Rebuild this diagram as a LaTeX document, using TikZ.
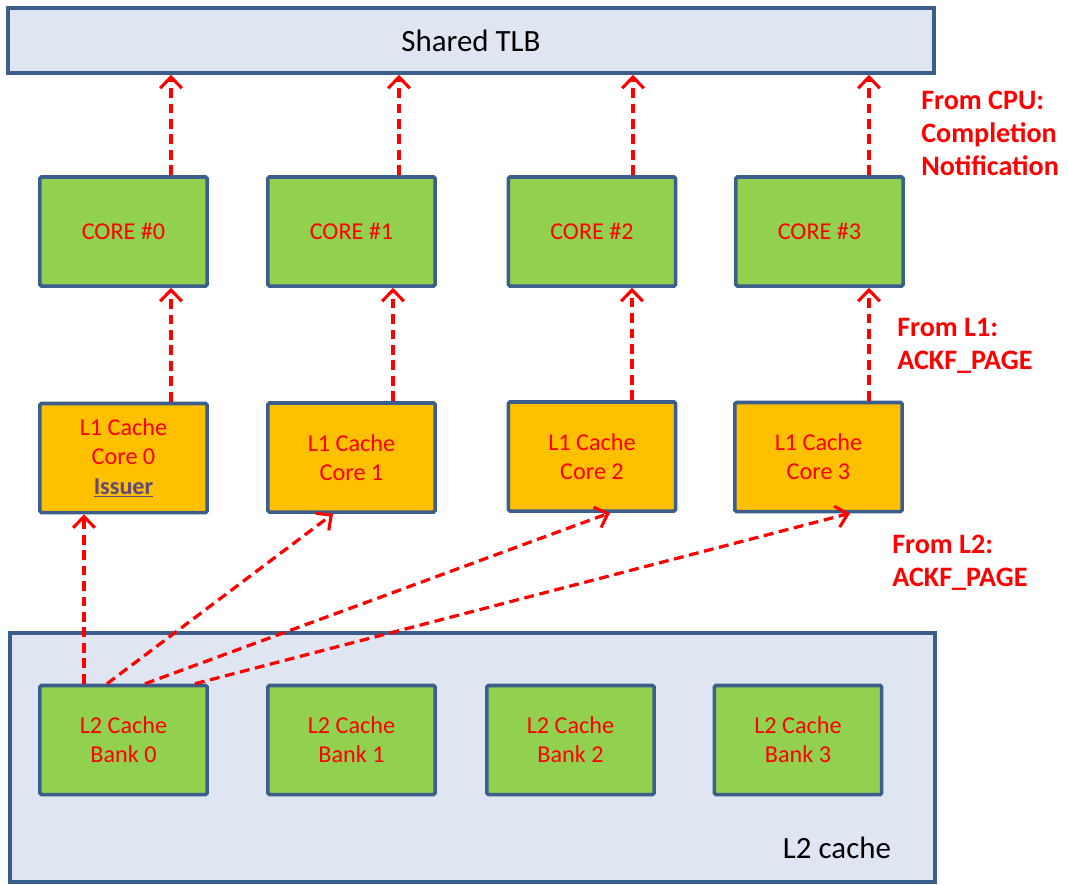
\documentclass[tikz,border=0pt]{standalone}
\usepackage{fontspec}
\setmainfont{Carlito}
\usetikzlibrary{arrows.meta}
\definecolor{bordc}{HTML}{3B5E8C}
\definecolor{paleblue}{HTML}{DFE6F1}
\definecolor{boxgreen}{HTML}{92D050}
\definecolor{boxorange}{HTML}{FFC000}
\definecolor{issuerc}{HTML}{604A7B}
\tikzset{
  box/.style={draw=bordc, line width=2.5pt, rounded corners=1pt, inner sep=0pt, align=center,
     minimum width=4.175cm, minimum height=2.725cm, text=red,
     font=\fontsize{17.2}{20.7}\selectfont},
  greenbox/.style={box, fill=boxgreen},
  orangebox/.style={box, fill=boxorange},
  panel/.style={draw=bordc, line width=2.5pt, fill=paleblue, inner sep=0pt},
  arr/.style={draw=red, line width=2.3pt, dash pattern=on 7pt off 4pt,
     -{Straight Barb[length=2.8mm, width=5.4mm, line width=2.2pt]}},
  note/.style={text=red, font=\bfseries\fontsize{20}{23.5}\selectfont, align=left, anchor=west, inner sep=0pt},
}
\begin{document}
\begin{tikzpicture}[x=0.025cm, y=-0.025cm]
\useasboundingbox (0,0) rectangle (1068,884);
% Shared TLB
\node[panel, minimum width=23.15cm, minimum height=1.625cm, font=\fontsize{22}{26}\selectfont] (tlb) at (471,40.5) {Shared TLB};
% L2 cache panel
\node[panel, minimum width=23.125cm, minimum height=6.225cm] (l2) at (472.5,757.5) {};
\node[font=\fontsize{22}{26}\selectfont, inner sep=0pt] (l2lab) at (837,848) {L2 cache};
% cores
\node[greenbox] (c0) at (123.5,231.5) {CORE \#0};
\node[greenbox] (c1) at (351.5,231.5) {CORE \#1};
\node[greenbox] (c2) at (592,231.5) {CORE \#2};
\node[greenbox] (c3) at (819.5,231.5) {CORE \#3};
% L1 caches
\node[orangebox] (l0) at (123.5,458) {L1 Cache\\Core 0\\{\color{issuerc}\bfseries\underline{Issuer}}};
\node[orangebox] (l1) at (351.5,457.5) {L1 Cache\\Core 1};
\node[orangebox] (l2c) at (592,456.5) {L1 Cache\\Core 2};
\node[orangebox] (l3) at (818.5,457) {L1 Cache\\Core 3};
% L2 banks
\node[greenbox] (b0) at (123.5,740) {L2 Cache\\Bank 0};
\node[greenbox] (b1) at (351.5,740) {L2 Cache\\Bank 1};
\node[greenbox] (b2) at (570.5,740) {L2 Cache\\Bank 2};
\node[greenbox] (b3) at (798,740) {L2 Cache\\Bank 3};
% labels
\node[note] (n1) at (921,133) {From CPU:\\Completion\\Notification};
\node[note] (n2) at (897,346) {From L1:\\ACKF\_PAGE};
\node[note] (n3) at (892,563) {From L2:\\ACKF\_PAGE};
% x positions of connectors
\coordinate (xa0) at (171,0);
\coordinate (xa1) at (399,0);
\coordinate (xa2) at (633,0);
\coordinate (xa3) at (869,0);
\coordinate (xb1) at (393,0);
\coordinate (xb2) at (632,0);
\coordinate (xl0) at (84,0);
\coordinate (xs1) at (107,0);
\coordinate (xs2) at (145,0);
\coordinate (xs3) at (195,0);
\coordinate (xt1) at (333,0);
\coordinate (xt2) at (610,0);
\coordinate (xt3) at (850,0);
% core -> TLB
\draw[arr] (c0.north -| xa0) -- (tlb.south -| xa0);
\draw[arr] (c1.north -| xa1) -- (tlb.south -| xa1);
\draw[arr] (c2.north -| xa2) -- (tlb.south -| xa2);
\draw[arr] (c3.north -| xa3) -- (tlb.south -| xa3);
% L1 -> core
\draw[arr] (l0.north -| xa0) -- (c0.south -| xa0);
\draw[arr] (l1.north -| xb1) -- (c1.south -| xb1);
\draw[arr] (l2c.north -| xb2) -- (c2.south -| xb2);
\draw[arr] (l3.north -| xa3) -- (c3.south -| xa3);
% L2 bank 0 -> L1
\draw[arr] (b0.north -| xl0) -- (l0.south -| xl0);
\draw[arr] (b0.north -| xs1) -- (l1.south -| xt1);
\draw[arr] (b0.north -| xs2) -- (l2c.south -| xt2);
\draw[arr] (b0.north -| xs3) -- (l3.south -| xt3);
\end{tikzpicture}
\end{document}
